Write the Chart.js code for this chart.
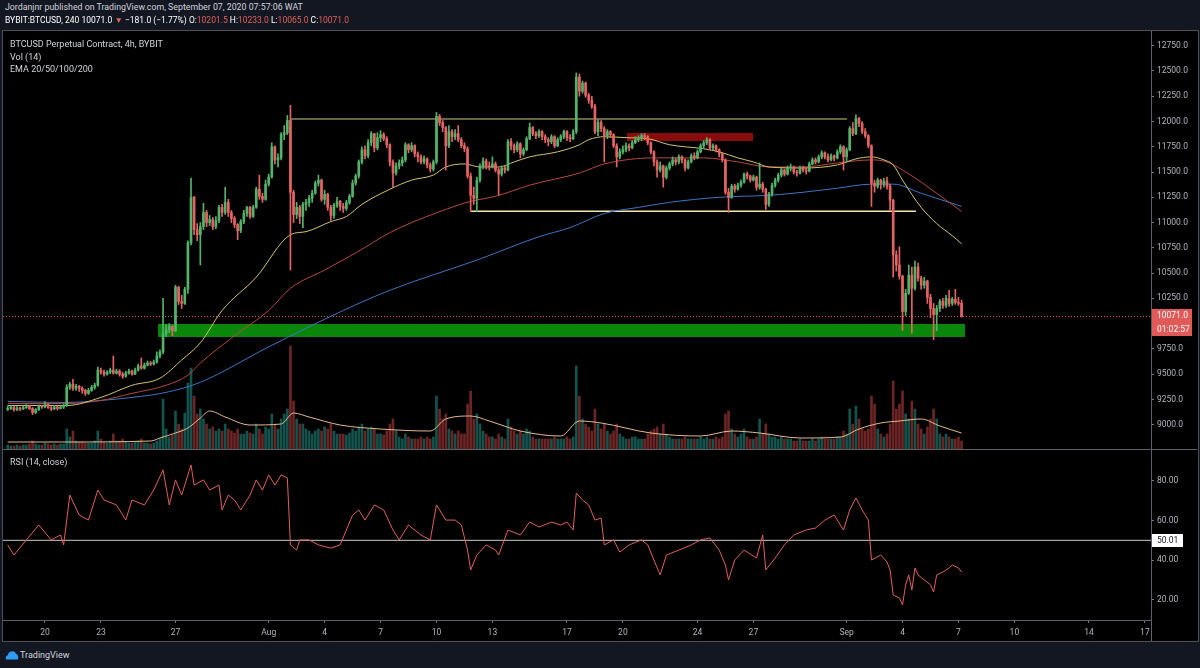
<!DOCTYPE html>
<html><head><meta charset="utf-8">
<script src="https://cdn.jsdelivr.net/npm/chart.js@4.4.0/dist/chart.umd.min.js"></script>
<style>
html,body{margin:0;padding:0;background:#131722;width:1200px;height:668px;overflow:hidden;font-family:Roboto,'Liberation Sans',sans-serif;}
.t{position:absolute;white-space:nowrap;font-size:8.5px;line-height:10px;color:#d1d4dc;}
.r{color:#e0605c;}
#frame{position:absolute;left:2px;top:30px;width:1195px;height:610px;background:#000;border:1px solid #4a4e59;}
canvas{position:absolute;}
.hl{position:absolute;background:#5d606b;}
</style></head><body>
<div id="frame"></div>
<canvas id="price" width="1194" height="418" style="left:3px;top:31px"></canvas>
<canvas id="rsi" width="1194" height="192" style="left:3px;top:449px"></canvas>
<div class="hl" style="left:3px;top:449px;width:1194px;height:1px"></div>
<div class="hl" style="left:1151px;top:620px;width:1px;height:21px"></div>

<div class="t" style="left:5px;top:2px;font-size:8.8px;">Jordanjnr published on TradingView.com, September 07, 2020 07:57:06 WAT</div>
<div class="t" style="left:5px;top:15px;color:#fff;">BYBIT:BTCUSD, 240 10071.0 <span class="r">▼</span> −181.0 (−1.77%) O:<span class="r">10201.5</span> H:<span class="r">10233.0</span> L:<span class="r">10065.0</span> C:<span class="r">10071.0</span></div>
<div class="t" style="left:10px;top:39px;font-size:9px;">BTCUSD Perpetual Contract, 4h, BYBIT</div>
<div class="t" style="left:10px;top:52px;font-size:9px;">Vol (14)</div>
<div class="t" style="left:10px;top:64px;font-size:9px;">EMA 20/50/100/200</div>
<div class="t" style="left:10px;top:457px;font-size:9px;">RSI (14, close)</div>

<div style="position:absolute;left:1152px;top:309px;width:40px;height:27px;background:#e25a58;"></div>
<div class="t" style="left:1157px;top:310px;color:#fff;">10071.0</div>
<div class="t" style="left:1157px;top:324px;color:#fff;">01:02:57</div>
<div style="position:absolute;left:1152px;top:534px;width:31px;height:13px;background:#fff;"></div>
<div class="t" style="left:1157px;top:535px;color:#131722;">50.01</div>

<svg style="position:absolute;left:5px;top:650px" width="14" height="10" viewBox="0 0 14 10"><path d="M1 9.5 Q0 6 3 5 Q3.5 1 7 1.5 Q10 0.3 11 4 Q14 4.5 13 9.5 Z" fill="#2a9df4"/></svg>
<div class="t" style="left:20px;top:650px;font-size:9px;">TradingView</div>

<script>
// ---- data (candle index 0 = 18 Jul 2020 00:00 UTC, 4h candles) ----
const firstOpen = 9150;
const closes = [
 9160,9175,9150,9165,9155,9170, // Jul 18
 9180,9160,9120,9150,9180,9175, // Jul 19
 9200,9170,9155,9175,9160,9175, // Jul 20
 9190,9370,9400,9360,9380,9360, // Jul 21
 9340,9310,9340,9370,9390,9540, // Jul 22
 9520,9500,9520,9540,9510,9530, // Jul 23
 9500,9480,9510,9530,9500,9540, // Jul 24
 9580,9560,9590,9610,9600,9620, // Jul 25
 9680,9720,9900,9940,9970,9930, // Jul 26
 10360,10220,10200,10340,10800,11250, // Jul 27
 10930,10880,10960,11100,11000,11030, // Jul 28
 10960,11020,11150,11100,11200,11100, // Jul 29
 11040,10980,10920,11010,11090,11150, // Jul 30
 11060,11150,11330,11260,11230,11380, // Jul 31
 11450,11750,11620,11640,11870,11890, // Aug 1
 12010,11300,11080,11150,11060,11180, // Aug 2
 11200,11240,11290,11390,11420,11230, // Aug 3
 11280,11150,11070,11170,11210,11160, // Aug 4
 11140,11200,11260,11390,11460,11600, // Aug 5
 11720,11660,11790,11880,11740,11840, // Aug 6
 11870,11830,11770,11600,11490,11560, // Aug 7
 11590,11620,11770,11720,11760,11680, // Aug 8
 11650,11600,11630,11570,11530,11600, // Aug 9
 12050,11990,11940,11760,11900,11850, // Aug 10
 11880,11820,11760,11730,11460,11270, // Aug 11
 11240,11420,11560,11610,11560,11550, // Aug 12
 11580,11520,11480,11540,11520,11800, // Aug 13
 11760,11720,11780,11680,11720,11830, // Aug 14
 11940,11880,11860,11900,11850,11820, // Aug 15
 11800,11850,11760,11820,11850,11900, // Aug 16
 11840,11830,11900,12440,12300,12380, // Aug 17
 12260,12210,12150,11900,11990,11930, // Aug 18
 11850,11900,11870,11760,11650,11700, // Aug 19
 11720,11760,11740,11790,11820,11830, // Aug 20
 11860,11850,11790,11700,11600,11520, // Aug 21
 11560,11450,11540,11580,11620,11600, // Aug 22
 11650,11620,11540,11600,11660,11640, // Aug 23
 11700,11760,11790,11820,11740,11760, // Aug 24
 11720,11680,11620,11300,11250,11360, // Aug 25
 11330,11370,11400,11480,11460,11420, // Aug 26
 11450,11350,11380,11330,11180,11280, // Aug 27
 11370,11420,11470,11520,11480,11540, // Aug 28
 11550,11500,11490,11540,11520,11510, // Aug 29
 11580,11620,11600,11650,11690,11650, // Aug 30
 11620,11660,11640,11700,11750,11650, // Aug 31
 11720,11930,11880,12030,11980,11900, // Sep 1
 11860,11760,11390,11360,11420,11380, // Sep 2
 11410,11360,11220,10680,10580,10470, // Sep 3
 10120,10300,10480,10350,10560,10450, // Sep 4
 10380,10420,10260,10150,10090,10150, // Sep 5
 10220,10180,10250,10200,10240,10210, // Sep 6
 10201.5,10071                         // Sep 7
];
const highs = [
 9185,9190,9180,9180,9175,9185,
 9200,9190,9170,9160,9195,9190,
 9230,9210,9180,9190,9185,9190,
 9200,9395,9420,9450,9400,9390,
 9375,9350,9360,9390,9410,9570,
 9560,9540,9535,9560,9680,9550,
 9545,9520,9530,9550,9540,9560,
 9600,9660,9610,9630,9625,9640,
 9720,9740,10250,9990,10000,9980,
 10380,10370,10280,10360,10820,11440,
 11260,10990,11000,11190,11120,11070,
 11050,11060,11170,11180,11350,11230,
 11120,11060,10990,11030,11120,11160,
 11160,11170,11350,11470,11290,11420,
 11480,11790,11760,11680,11890,11960,
 12060,12160,11320,11200,11170,11200,
 11230,11270,11320,11410,11470,11430,
 11320,11290,11170,11190,11250,11220,
 11190,11220,11280,11420,11480,11620,
 11750,11760,11820,11900,11880,11890,
 11910,11890,11850,11780,11620,11590,
 11620,11650,11790,11780,11790,11770,
 11700,11670,11660,11640,11590,11620,
 12090,12070,12010,11950,11960,11920,
 11920,11960,11840,11790,11750,11490,
 11350,11450,11580,11640,11630,11600,
 11650,11600,11540,11560,11560,11820,
 11830,11780,11800,11790,11740,11850,
 11985,11950,11900,11920,11910,11870,
 11840,11870,11860,11840,11870,11915,
 11910,11870,11920,12480,12470,12400,
 12390,12280,12250,12170,12020,12010,
 11950,11920,11910,11880,11780,11730,
 11760,11790,11780,11810,11850,11860,
 11880,11880,11860,11800,11710,11620,
 11600,11570,11560,11600,11650,11640,
 11670,11660,11630,11620,11680,11690,
 11720,11780,11810,11840,11830,11780,
 11770,11730,11690,11630,11340,11380,
 11380,11390,11420,11490,11500,11470,
 11470,11460,11590,11400,11340,11300,
 11390,11440,11490,11540,11530,11560,
 11580,11560,11520,11560,11560,11540,
 11600,11640,11640,11670,11710,11700,
 11680,11680,11670,11720,11770,11760,
 11740,11950,11990,12065,12040,12000,
 11930,11870,11770,11420,11440,11430,
 11440,11450,11380,11230,10720,10760,
 10480,10340,10580,10560,10620,10600,
 10470,10460,10430,10290,10200,10180,
 10240,10250,10280,10330,10260,10340,
 10260,10233
];
const lows = [
 9140,9150,9135,9140,9140,9150,
 9160,9150,9100,9110,9140,9160,
 9165,9160,9140,9150,9145,9155,
 9160,9180,9350,9340,9340,9330,
 9310,9290,9300,9330,9350,9380,
 9500,9480,9490,9505,9500,9500,
 9480,9460,9470,9500,9490,9495,
 9530,9550,9550,9580,9585,9590,
 9610,9660,9700,9870,9910,9880,
 9920,10190,10150,10190,10300,10780,
 10880,10820,10580,10930,10960,10970,
 10930,10940,11000,11060,11080,11060,
 11000,10950,10830,10900,10990,11060,
 11040,11050,11140,11230,11200,11220,
 11360,11440,11580,11550,11620,11820,
 11870,10530,11000,11040,10990,10950,
 11120,11160,11200,11280,11360,11210,
 11180,11120,11020,11040,11150,11120,
 11100,11120,11180,11250,11370,11440,
 11580,11630,11640,11760,11700,11720,
 11800,11810,11740,11560,11350,11470,
 11530,11560,11600,11690,11700,11650,
 11600,11580,11580,11540,11500,11510,
 11580,11960,11900,11520,11740,11800,
 11820,11800,11740,11700,11440,11110,
 11180,11110,11400,11530,11530,11520,
 11540,11500,11270,11460,11490,11510,
 11720,11690,11700,11640,11660,11710,
 11820,11860,11830,11840,11820,11790,
 11760,11780,11740,11750,11800,11830,
 11810,11800,11820,11880,12250,12280,
 12240,12180,12130,11880,11860,11900,
 11600,11830,11840,11740,11550,11630,
 11680,11700,11710,11730,11780,11800,
 11810,11820,11770,11680,11560,11450,
 11500,11350,11430,11520,11560,11570,
 11580,11590,11510,11530,11590,11620,
 11630,11690,11740,11770,11720,11720,
 11700,11650,11600,11280,11100,11240,
 11300,11320,11350,11390,11430,11400,
 11410,11320,11330,11300,11130,11160,
 11260,11350,11400,11450,11460,11470,
 11510,11480,11460,11480,11500,11480,
 11500,11570,11580,11590,11630,11630,
 11600,11610,11610,11630,11680,11520,
 11600,11710,11860,11870,11950,11880,
 11840,11740,11160,11300,11340,11330,
 11350,11330,11120,10460,10520,10440,
 9935,10080,10290,9905,10330,10420,
 10340,10350,10200,10060,9840,9930,
 10120,10150,10160,10170,10180,10190,
 10180,10065
];
// volume, millions of contracts
const volume = [
 20,15,15,20,15,20,  20,25,40,25,20,20,  30,25,20,25,20,25,
 25,100,60,90,40,35,  35,30,30,30,40,90,  50,35,30,40,75,40,
 40,50,35,30,30,35,  40,50,30,30,25,30,  40,50,250,100,60,70,
 190,125,100,180,330,405,  265,175,200,150,125,100,  110,90,100,90,125,100,
 90,80,100,75,75,90,  80,75,125,100,75,110,  100,175,125,100,150,175,
 200,515,240,150,125,125,  100,90,75,90,100,90,  110,100,125,90,75,75,
 75,70,80,100,90,110,  125,90,100,110,100,75,  75,70,90,125,150,90,
 60,50,75,60,50,50,  50,60,50,60,50,60,  265,200,150,175,100,90,
 75,90,75,75,225,290,  150,175,125,90,75,60,  60,50,75,60,50,150,
 110,90,75,90,75,100,  90,60,50,50,50,50,  50,50,60,50,50,50,
 60,50,60,415,265,150,  125,110,90,200,125,100,  125,90,75,90,125,75,
 60,50,50,60,60,50,  50,50,75,90,100,110,  75,125,75,60,50,50,
 50,50,60,50,50,50,  50,60,50,60,50,50,  60,50,60,175,190,100,
 75,60,75,100,60,50,  50,60,150,75,125,75,  60,60,50,60,50,50,
 50,40,40,50,40,40,  40,50,40,50,60,50,  50,50,50,60,60,90,
 75,200,125,215,150,100,  90,100,265,225,100,75,  60,75,125,340,200,225,
 290,175,150,240,200,125,  100,75,110,150,200,150,  75,60,75,60,50,50,
 60,40
];
const volMAIdx = [0,17,46,49,54,58,62,65,70,78,88,92,97,107,120,136,141,149,155,165,178,184,191,207,223,233,242,255,268,274,281,287,294,300,307];
const volMA    = [35,35,40,55,80,105,155,190,160,120,125,180,160,120,100,90,150,165,140,90,65,140,130,80,65,90,80,55,60,100,130,140,150,115,80];

const ema20Idx = [0,19,30,40,49,56,62,69,80,91,96,104,109,114,123,130,137,141,147,152,158,163,168,177,184,187,192,199,206,213,224,229,235,240,245,256,267,273,278,282,285,288,294,299,304,307];
const ema20    = [9190,9190,9270,9390,9460,9640,9810,10130,10460,10880,10910,11010,11060,11180,11330,11420,11470,11550,11580,11550,11550,11600,11650,11700,11770,11820,11850,11840,11830,11770,11730,11700,11640,11600,11550,11540,11570,11630,11650,11620,11570,11420,11150,10990,10870,10790];
const ema50Idx = [0,19,30,40,51,58,62,73,84,91,102,112,123,130,141,149,157,168,184,192,208,224,235,245,256,267,278,283,288,294,299,307];
const ema50    = [9210,9210,9240,9310,9390,9490,9610,9880,10130,10350,10530,10700,10900,11000,11130,11210,11260,11370,11490,11580,11640,11640,11600,11550,11550,11590,11620,11600,11520,11400,11290,11110];
const ema100Idx = [0,19,30,40,51,62,84,108,123,152,171,181,192,203,213,229,245,256,267,278,285,294,299,307];
const ema100    = [9230,9220,9240,9270,9320,9420,9770,10130,10330,10640,10860,10950,11090,11150,11200,11250,11270,11300,11340,11380,11380,11290,11240,11160];

const rsiIdx = [0,2,6,10,14,17,18,20,23,26,29,31,35,38,40,44,47,50,52,54,56,58,59,60,63,65,68,69,71,73,75,78,80,82,84,86,88,90,91,93,94,97,100,104,107,109,111,113,115,118,121,124,126,129,133,136,138,141,144,146,148,149,151,154,157,158,161,165,168,171,175,178,180,182,183,185,187,189,191,192,195,197,200,204,206,208,210,212,216,220,223,226,229,231,232,234,237,241,243,244,247,250,253,257,260,263,266,269,271,273,275,277,278,281,283,284,285,287,288,289,290,291,292,293,295,297,298,299,301,303,304,306,307];
const rsiVal = [47.7,42.6,50.2,57.7,50.2,52.7,47.7,72.8,62.7,60.2,75.3,70.3,67.8,60.2,70.3,67.8,75.3,85.4,67.8,80.4,72.8,82.9,87.9,77.8,80.4,75.3,77.8,65.3,72.8,70.3,65.3,72.8,80.4,75.3,82.9,77.8,82.9,81.4,47.7,45.1,50.2,50.2,47.7,46.1,47.7,55.2,62.7,65.3,60.2,67.8,65.3,55.2,50.2,57.7,52.7,50.2,67.8,60.2,60.2,57.7,45.1,35.1,42.6,47.7,45.1,42.6,55.2,52.7,59.2,56.7,59.2,57.7,59.2,55.2,73.8,70.3,67.8,60.2,61.2,47.7,50.2,44.1,47.7,50.2,47.7,40.1,32.6,42.6,45.1,47.7,50.2,51.2,45.1,37.6,30.1,40.1,45.1,41.1,52.7,35.1,41.1,47.7,52.7,55.2,56.2,60.2,62.7,55.2,65.3,71.3,65.3,60.2,40.1,42.6,39.1,35.1,22.5,21.0,17.5,27.6,32.6,25.0,36.1,32.6,30.1,27.6,24.0,32.6,34.1,36.1,37.6,36.1,34.1];
const rsiLast = 50.01;

const priceTicks = [9000,9250,9500,9750,10250,10500,10750,11000,11250,11500,11750,12000,12250,12500,12750];
const rsiTicks = [20,40,60,80];
const dateIdx = [12,30,54,84,102,120,138,156,180,198,222,240,270,288,306,324,348,366];
const dateLabels = ['20','23','27','Aug','4','7','10','13','17','20','24','27','Sep','4','7','10','14','17'];

// drawings (price levels / candle index ranges)
const rangeTop = {from: 90.9, to: 270.1, price: 12025};
const rangeBottom = {from: 149.1, to: 292.3, price: 11113};
const supplyZone = {from: 199.3, to: 239.9, low: 11807, high: 11886};
const demandZone = {from: 48.4, to: 308.1, low: 9868, high: 9997};
const lastPrice = 10071;

// ---- build ----
const X_MIN = -1.513, X_MAX = 367.97;
const UP = '#53b36a', DN = '#e46464';
const opens = closes.map((c, i) => i === 0 ? firstOpen : closes[i - 1]);
const candleColors = closes.map((c, i) => c >= opens[i] ? UP : DN);
const volColors = closes.map((c, i) => c >= opens[i] ? 'rgba(38,166,154,0.5)' : 'rgba(239,83,80,0.45)');
const bodies = closes.map((c, i) => ({x: i, y: [opens[i], c]}));
const wicks = closes.map((c, i) => ({x: i, y: [lows[i], highs[i]]}));
const volData = volume.map((v, i) => ({x: i, y: v}));
const pts = (idx, vals) => idx.map((x, k) => ({x, y: vals[k]}));

Chart.defaults.font.family = 'Roboto';
Chart.defaults.font.size = 8.5;
Chart.defaults.color = '#b2b5be';

const lineDs = (data, color, width, order, extra) => Object.assign({type: 'line', data, borderColor: color, borderWidth: width, pointRadius: 0, order, yAxisID: 'y'}, extra || {});
const noPad = s => { s.paddingTop = 0; s.paddingBottom = 0; s.paddingLeft = 0; s.paddingRight = 0; };
const fixW = s => { s.width = 46; noPad(s); };
const fixH = s => { s.height = 21; noPad(s); };

new Chart(document.getElementById('price'), {
  type: 'bar',
  data: {datasets: [
    {type: 'bar', data: bodies, backgroundColor: candleColors, barThickness: 2, grouped: false, minBarLength: 1, order: 0, yAxisID: 'y'},
    {type: 'bar', data: wicks, backgroundColor: candleColors, barThickness: 1, grouped: false, order: 1, yAxisID: 'y'},
    lineDs(pts(ema20Idx, ema20), '#d4c46c', 1, 2, {cubicInterpolationMode: 'monotone'}),
    lineDs(pts(ema50Idx, ema50), '#b9483d', 1, 2, {cubicInterpolationMode: 'monotone'}),
    lineDs(pts(ema100Idx, ema100), '#3a76c4', 1, 2, {cubicInterpolationMode: 'monotone'}),
    lineDs([{x: rangeTop.from, y: rangeTop.price}, {x: rangeTop.to, y: rangeTop.price}], '#cfcc86', 1, 3),
    lineDs([{x: rangeBottom.from, y: rangeBottom.price}, {x: rangeBottom.to, y: rangeBottom.price}], '#f4e9a8', 1.5, 3),
    lineDs([{x: X_MIN, y: lastPrice}, {x: X_MAX, y: lastPrice}], '#e0605c', 1, 3, {borderDash: [1, 2]}),
    lineDs([{x: supplyZone.from, y: supplyZone.high}, {x: supplyZone.to, y: supplyZone.high}], 'rgba(0,0,0,0)', 0, 4, {backgroundColor: '#8a0b0b', fill: {value: supplyZone.low}}),
    lineDs([{x: demandZone.from, y: demandZone.high}, {x: demandZone.to, y: demandZone.high}], 'rgba(0,0,0,0)', 0, 4, {backgroundColor: '#0a870a', fill: {value: demandZone.low}}),
    {type: 'line', data: pts(volMAIdx, volMA), borderColor: '#e8b98c', borderWidth: 1, pointRadius: 0, cubicInterpolationMode: 'monotone', order: 5, yAxisID: 'yv'},
    {type: 'bar', data: volData, backgroundColor: volColors, barThickness: 2, grouped: false, order: 6, yAxisID: 'yv'}
  ]},
  options: {
    responsive: false, animation: false, devicePixelRatio: 1,
    layout: {padding: 0, autoPadding: false},
    plugins: {legend: {display: false}, tooltip: {enabled: false}},
    scales: {
      x: {type: 'linear', min: X_MIN, max: X_MAX, display: false, offset: false, afterFit: noPad},
      y: {type: 'linear', position: 'right', min: 8759.6, max: 12895.4, afterFit: fixW,
          afterBuildTicks: s => { s.ticks = priceTicks.map(v => ({value: v})); },
          ticks: {callback: v => Number(v).toFixed(1), padding: 3, autoSkip: false},
          grid: {drawOnChartArea: false, tickLength: 3, color: '#787b86'},
          border: {color: '#5d606b'}},
      yv: {type: 'linear', display: false, min: 0, max: 2090, afterFit: noPad}
    }
  }
});

new Chart(document.getElementById('rsi'), {
  type: 'line',
  data: {datasets: [
    {data: pts(rsiIdx, rsiVal), borderColor: '#e0605c', borderWidth: 1, pointRadius: 0},
    {data: [{x: X_MIN, y: rsiLast}, {x: X_MAX, y: rsiLast}], borderColor: '#c8c9cc', borderWidth: 1, pointRadius: 0}
  ]},
  options: {
    responsive: false, animation: false, devicePixelRatio: 1,
    layout: {padding: 0, autoPadding: false},
    plugins: {legend: {display: false}, tooltip: {enabled: false}},
    scales: {
      x: {type: 'linear', min: X_MIN, max: X_MAX, offset: false, afterFit: fixH,
          afterBuildTicks: s => { s.ticks = dateIdx.map(v => ({value: v})); },
          ticks: {callback: (v, i) => dateLabels[i], autoSkip: false, maxRotation: 0, padding: 5},
          grid: {drawOnChartArea: false, tickLength: 3, color: '#787b86'},
          border: {color: '#5d606b'}},
      y: {type: 'linear', position: 'right', min: 9.94, max: 95.94, afterFit: fixW,
          afterBuildTicks: s => { s.ticks = rsiTicks.map(v => ({value: v})); },
          ticks: {callback: v => Number(v).toFixed(2), padding: 3, autoSkip: false},
          grid: {drawOnChartArea: false, tickLength: 3, color: '#787b86'},
          border: {color: '#5d606b'}}
    }
  }
});
</script>
</body></html>
